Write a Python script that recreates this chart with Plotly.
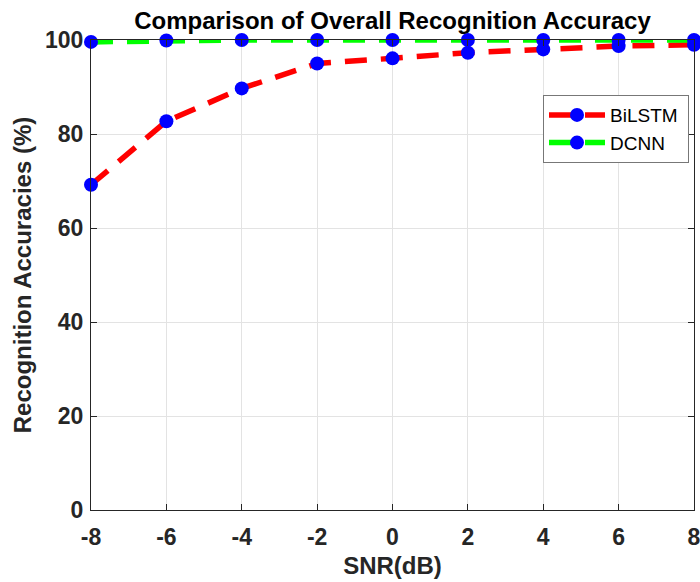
import plotly.graph_objects as go

snr_db = [-8, -6, -4, -2, 0, 2, 4, 6, 8]
bilstm_acc = [69.2, 82.7, 89.7, 95.0, 96.1, 97.3, 98.0, 98.7, 99.0]
dcnn_acc = [99.6, 99.9, 100.0, 100.0, 100.0, 100.0, 100.0, 100.0, 100.0]
x_ticks = [-8, -6, -4, -2, 0, 2, 4, 6, 8]
x_tick_text = ["-8", "-6", "-4", "-2", "0", "2", "4", "6", "8"]
y_ticks = [0, 20, 40, 60, 80, 100]

FONT = "Liberation Sans"
PAD = "\u00a0"  # a little right padding inside the legend box

fig = go.Figure()
fig.add_trace(go.Scatter(
    x=snr_db, y=bilstm_acc, name="BiLSTM" + PAD, mode="lines+markers",
    line=dict(color="#ff0000", width=5.5, dash="22px,14px"),
    marker=dict(color="#0000ff", size=14, symbol="circle"),
    cliponaxis=False,
))
fig.add_trace(go.Scatter(
    x=snr_db, y=dcnn_acc, name="DCNN" + PAD, mode="lines+markers",
    line=dict(color="#00ff00", width=5.5, dash="22px,14px"),
    marker=dict(color="#0000ff", size=14, symbol="circle"),
    cliponaxis=False,
))

axis_common = dict(
    showgrid=True, gridcolor="#e3e3e3", gridwidth=1,
    showline=True, linecolor="#262626", linewidth=1, mirror="allticks",
    ticks="inside", ticklen=6, tickcolor="#262626",
    zeroline=False, ticklabeloverflow="allow", automargin=False,
    tickfont=dict(family=FONT, size=23, color="#262626", weight="bold"),
)

fig.update_layout(
    width=700, height=582,
    margin=dict(l=91, r=6, t=40, b=72, autoexpand=False),
    paper_bgcolor="white", plot_bgcolor="white",
    title=dict(
        text="<b>Comparison of Overall Recognition Accuracy</b>",
        font=dict(family=FONT, size=24, color="black"),
        x=(91 + 694) / 2 / 700, xanchor="center",
        y=1 - 21 / 582, yanchor="middle",
    ),
    xaxis=dict(
        range=[-8, 8], tickvals=x_ticks, ticktext=x_tick_text,
        ticklabelstandoff=6,
        title=dict(text="<b>SNR(dB)</b>", standoff=8,
                   font=dict(family=FONT, size=24, color="#262626")),
        **axis_common,
    ),
    yaxis=dict(
        range=[0, 100], tickvals=y_ticks,
        ticklabelstandoff=2,
        title=dict(text="<b>Recognition Accuracies (%)</b>", standoff=6,
                   font=dict(family=FONT, size=24, color="#262626")),
        **axis_common,
    ),
    legend=dict(
        x=(543 - 91) / 603, y=(509.5 - 95) / 469.5,
        xanchor="left", yanchor="top",
        bgcolor="white", bordercolor="#777777", borderwidth=1,
        font=dict(family=FONT, size=19, color="black"),
        itemwidth=56, tracegroupgap=0,
    ),
    showlegend=True,
)

fig.write_html("out.html")
